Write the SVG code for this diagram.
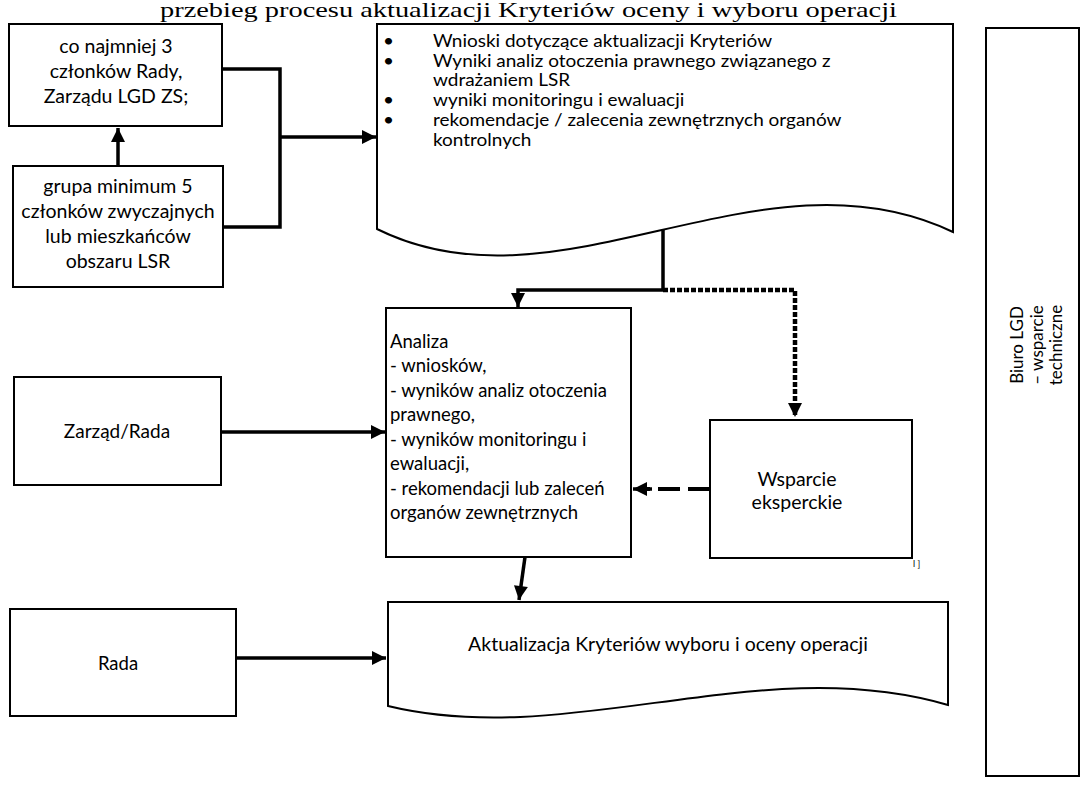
<svg xmlns="http://www.w3.org/2000/svg" width="1085" height="794" viewBox="0 0 1085 794">
<defs>
<style>
.box{fill:#fff;stroke:#000;stroke-width:2}
.t{font-family:Lato,"Open Sans","Liberation Sans",sans-serif;font-size:18.5px;fill:#000}
.c{text-anchor:middle}
.b{font-size:19.5px}
.d{font-size:19px}
.s{font-size:16.5px}
.ln{fill:none;stroke:#000;stroke-width:3.5}
.dot{fill:none;stroke:#000;stroke-width:4.5;stroke-dasharray:5 2}
.dash{fill:none;stroke:#000;stroke-width:4;stroke-dasharray:22 8}
.title{font-family:"Liberation Serif",serif;font-size:21px;fill:#000}
</style>
<marker id="ah" viewBox="0 0 10 10" refX="10" refY="5" markerWidth="16" markerHeight="14" markerUnits="userSpaceOnUse" orient="auto">
<path d="M0,0 L10,5 L0,10 z" fill="#000"/>
</marker>
</defs>
<rect width="1085" height="794" fill="#fff"/>
<text class="title" x="160" y="17" textLength="737" lengthAdjust="spacingAndGlyphs">przebieg procesu aktualizacji Kryteriów oceny i wyboru operacji</text>

<g id="connectors">
<path class="ln" d="M222,69 H280 V227 H223"/>
<path class="ln" d="M280,137 H376" marker-end="url(#ah)"/>
<path class="ln" d="M118,166 V128" marker-end="url(#ah)"/>
<path class="ln" d="M663,230 V290 H518 V307" marker-end="url(#ah)"/>
<path class="dot" d="M663,290 H795 V417" marker-end="url(#ah)"/>
<path class="ln" d="M221,432 H385" marker-end="url(#ah)"/>
<path class="dash" d="M710,489 H640"/>
<path class="ln" d="M652,489 H633" marker-end="url(#ah)"/>
<path class="ln" d="M525,557 L519,600" marker-end="url(#ah)"/>
<path class="ln" d="M236,658 H386" marker-end="url(#ah)"/>
</g>

<g id="n-czlonkowie">
<rect class="box" x="9" y="24" width="213" height="102"/>
<text class="t b c" x="116" y="53">co najmniej 3</text>
<text class="t b c" x="116" y="78">członków Rady,</text>
<text class="t b c" x="116" y="103">Zarządu LGD ZS;</text>
</g>

<g id="n-grupa">
<rect class="box" x="13" y="166" width="210" height="121"/>
<text class="t b c" x="118" y="193">grupa minimum 5</text>
<text class="t b c" x="118" y="218">członków zwyczajnych</text>
<text class="t b c" x="118" y="243">lub mieszkańców</text>
<text class="t b c" x="118" y="268">obszaru LSR</text>
</g>

<g id="n-wnioski">
<path class="box" d="M377,24 H953 V232 C760,140 560,320 377,229 Z"/>
<g class="t s" transform="translate(383,0) scale(1.15,1)">
<text x="0" y="47">•</text><text x="43.5" y="47">Wnioski dotyczące aktualizacji Kryteriów</text>
<text x="0" y="67">•</text><text x="43.5" y="67">Wyniki analiz otoczenia prawnego związanego z</text>
<text x="43.5" y="86">wdrażaniem LSR</text>
<text x="0" y="106">•</text><text x="43.5" y="106">wyniki monitoringu i ewaluacji</text>
<text x="0" y="126">•</text><text x="43.5" y="126">rekomendacje / zalecenia zewnętrznych organów</text>
<text x="43.5" y="146">kontrolnych</text>
</g>
</g>

<g id="n-zarzad">
<rect class="box" x="14" y="377" width="207" height="108"/>
<text class="t d c" x="117" y="438">Zarząd/Rada</text>
</g>

<g id="n-analiza">
<rect class="box" x="386" y="308" width="245" height="249"/>
<g class="t">
<text x="390" y="348">Analiza</text>
<text x="390" y="372">- wniosków,</text>
<text x="390" y="397">- wyników analiz otoczenia</text>
<text x="390" y="421">prawnego,</text>
<text x="390" y="446">- wyników monitoringu i</text>
<text x="390" y="470">ewaluacji,</text>
<text x="390" y="495">- rekomendacji lub zaleceń</text>
<text x="390" y="519">organów zewnętrznych</text>
</g>
</g>

<g id="n-wsparcie">
<rect class="box" x="710" y="420" width="202" height="138"/>
<text class="t b c" x="797" y="486">Wsparcie</text>
<text class="t b c" x="797" y="509">eksperckie</text>
<text class="t" x="913" y="567" style="font-size:9px">l ]</text>
</g>

<g id="n-rada">
<rect class="box" x="10" y="609" width="226" height="107"/>
<text class="t c" x="118" y="670">Rada</text>
</g>

<g id="n-aktualizacja">
<path class="box" d="M388,602 H948 V705 C760,650 570,750 388,706 Z"/>
<text class="t b c" x="668" y="651">Aktualizacja Kryteriów wyboru i oceny operacji</text>
</g>

<g id="n-biuro">
<rect class="box" x="986" y="28" width="93" height="748"/>
<g class="t c" style="font-size:17px" transform="translate(1037,345) rotate(-90)">
<text x="0" y="-14">Biuro LGD</text>
<text x="0" y="6">– wsparcie</text>
<text x="0" y="25">techniczne</text>
</g>
</g>
</svg>
